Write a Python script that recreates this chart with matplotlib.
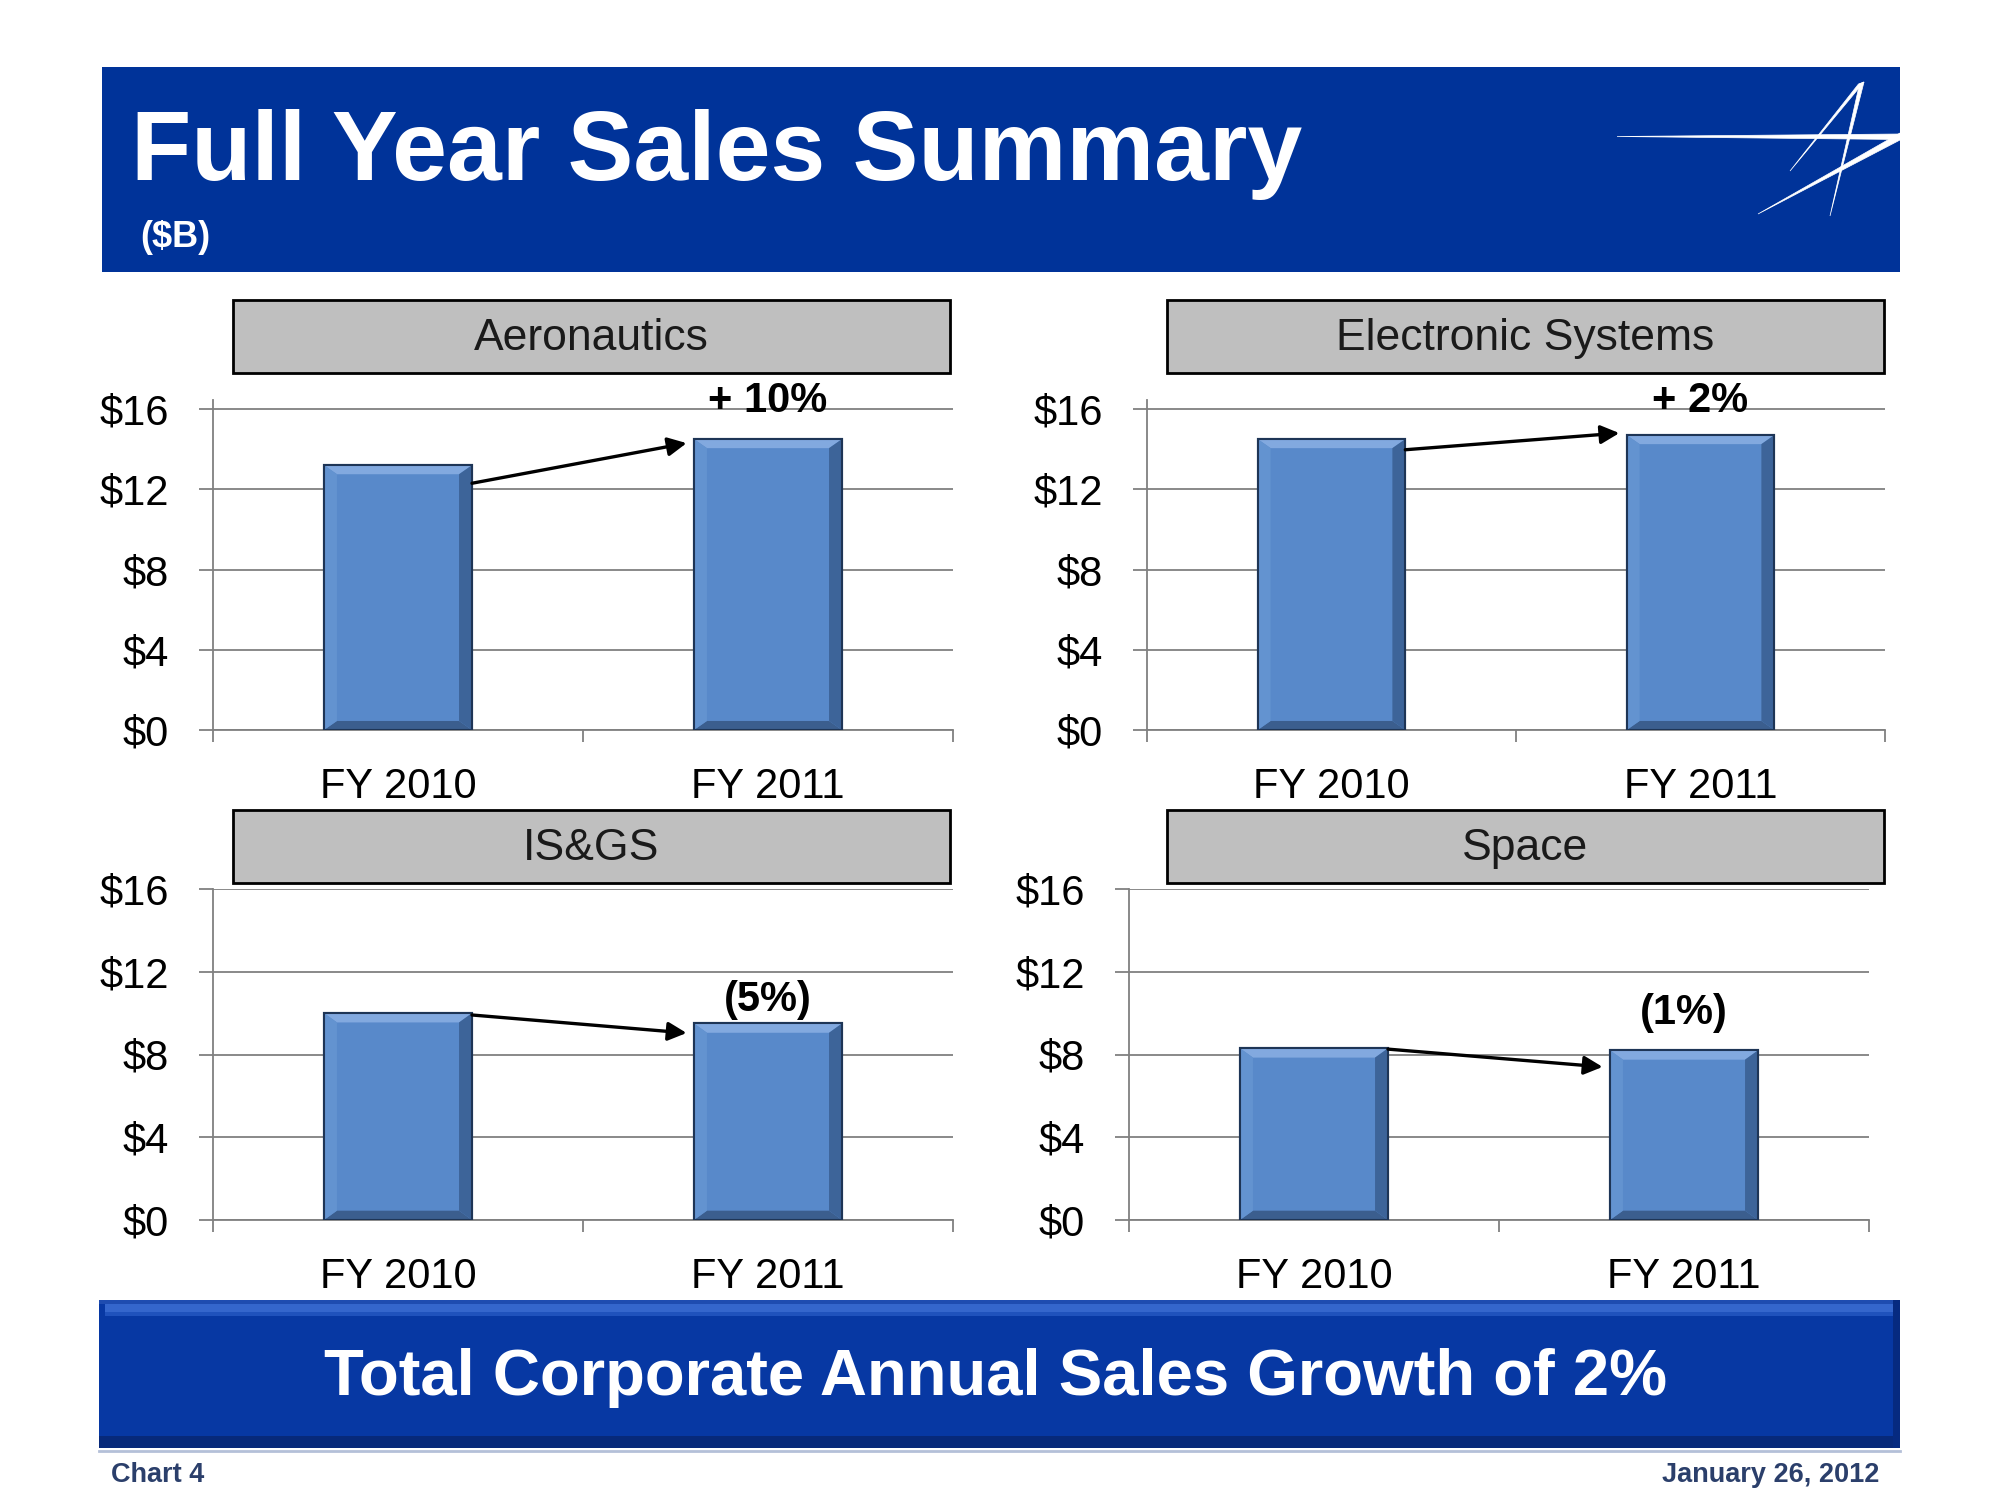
import matplotlib
matplotlib.use('Agg')
import matplotlib.pyplot as plt
from matplotlib.patches import Rectangle, Polygon

plt.rcParams['font.family'] = ['Liberation Sans', 'DejaVu Sans']

# data
segments = ['Aeronautics', 'Electronic Systems', 'IS&GS', 'Space']
years = ['FY 2010', 'FY 2011']
sales_2010 = [13.2, 14.5, 10.0, 8.3]
sales_2011 = [14.5, 14.7, 9.5, 8.2]
growth = ['+ 10%', '+ 2%', '(5%)', '(1%)']
yticks = [0, 4, 8, 12, 16]
title = 'Full Year Sales Summary'
subtitle = '($B)'
banner = 'Total Corporate Annual Sales Growth of 2%'
footer_left = 'Chart 4'
footer_right = 'January 26, 2012'

# layout, in pixels of the 2000x1500 canvas
W, H = 2000, 1500
axes_px = [(213, 400, 953, 730), (1147, 400, 1885, 730),
           (213, 889, 953, 1220), (1129, 889, 1869, 1220)]
ytop = [16.45, 16.45, 16.0, 16.0]
box_px = [(233, 300, 950, 373), (1167, 300, 1884, 373),
          (233, 810, 950, 883), (1167, 810, 1884, 883)]
label_y = [16.4, 16.4, 10.65, 10.0]
arrow_dy = [(-0.9, -0.2), (-0.53, 0.1), (-0.09, -0.46), (-0.04, -0.8)]

NAVY = '#003399'
GRID = '#808080'
BAR = '#5889CA'

fig = plt.figure(figsize=(20, 15), dpi=100)
fig.patch.set_facecolor('white')

deco = fig.add_axes([0, 0, 1, 1], zorder=0)
deco.set_xlim(0, W)
deco.set_ylim(H, 0)
deco.axis('off')

# header band
deco.add_patch(Rectangle((102, 67), 1798, 205, color=NAVY, lw=0))
deco.text(131, 180, title, color='white', fontsize=71, fontweight='bold',
          va='baseline', ha='left')
deco.text(140, 247, subtitle, color='white', fontsize=26, fontweight='bold',
          va='baseline', ha='left')

# logo
for pts in [[(1617, 136.5), (1900, 134), (1900, 139.5)],
            [(1758, 214), (1900, 133), (1900, 140)],
            [(1790, 171), (1858.5, 84), (1864, 82)],
            [(1830, 216), (1859.5, 84), (1864, 82)]]:
    deco.add_patch(Polygon(pts, closed=True, color='white', lw=0.5))

# bottom banner with bevel
deco.add_patch(Rectangle((99, 1300), 1801, 148, color='#0738A3', lw=0))
deco.add_patch(Rectangle((99, 1300), 1801, 4, color='#1E4CB0', lw=0))
deco.add_patch(Rectangle((105, 1304), 1789, 8, color='#3466CC', lw=0))
deco.add_patch(Rectangle((105, 1312), 1789, 4, color='#1F52BC', lw=0))
deco.add_patch(Rectangle((99, 1436), 1801, 12, color='#07297A', lw=0))
deco.add_patch(Rectangle((1893, 1300), 7, 148, color='#062A80', lw=0))
deco.plot([99, 1900], [1451, 1451], color='#B4C0D8', lw=2)
deco.text(996, 1378, banner, color='white', fontsize=47, fontweight='bold',
          ha='center', va='center')

deco.text(111, 1475, footer_left, color='#2B3F6B', fontsize=19.5,
          fontweight='bold', ha='left', va='center')
deco.text(1879, 1475, footer_right, color='#2B3F6B', fontsize=19.5,
          fontweight='bold', ha='right', va='center')

# panel header boxes
for (x0, y0, x1, y1), name in zip(box_px, segments):
    deco.add_patch(Rectangle((x0, y0), x1 - x0, y1 - y0, facecolor='#BFBFBF',
                             edgecolor='black', lw=2))
    deco.text((x0 + x1) / 2, (y0 + y1) / 2 + 2, name, color='#1A1A1A',
              fontsize=32, ha='center', va='center')

# charts
for i in range(4):
    l, t, r, b = axes_px[i]
    ax = fig.add_axes([l / W, 1 - b / H, (r - l) / W, (b - t) / H], zorder=1)
    ax.set_facecolor('none')
    vals = [sales_2010[i], sales_2011[i]]
    bars = ax.bar([0, 1], vals, width=0.4, color=BAR, edgecolor='#1E3556',
                  linewidth=1.5, zorder=3)
    # bevel
    for rect in bars:
        x0 = rect.get_x()
        w = rect.get_width()
        h = rect.get_height()
        x1 = x0 + w
        dx, dy = 0.035, 0.45
        bevels = [
            ([(x0, h), (x1, h), (x1 - dx, h - dy), (x0 + dx, h - dy)], '#82A9DF'),
            ([(x0, 0), (x1, 0), (x1 - dx, dy), (x0 + dx, dy)], '#3B5E8E'),
            ([(x1, 0), (x1, h), (x1 - dx, h - dy), (x1 - dx, dy)], '#3D6499'),
            ([(x0, 0), (x0, h), (x0 + dx, h - dy), (x0 + dx, dy)], '#6393D0'),
        ]
        for pts, c in bevels:
            ax.add_patch(Polygon(pts, closed=True, facecolor=c, lw=0, zorder=4))
        ax.add_patch(Rectangle((x0, 0), w, h, fill=False, edgecolor='#1E3556',
                               lw=1.5, zorder=5))

    ax.set_xlim(-0.5, 1.5)
    ax.set_ylim(0, ytop[i])
    ax.set_yticks(yticks)
    ax.set_yticklabels(['$' + str(v) for v in yticks])
    ax.yaxis.grid(True, color=GRID, lw=1.3)
    ax.set_axisbelow(True)
    ax.set_xticks([-0.5, 0.5, 1.5])
    ax.set_xticklabels([])
    ax.set_xticks([0, 1], minor=True)
    ax.set_xticklabels(years, minor=True)
    ax.tick_params(axis='x', which='major', length=8.6, width=1.3, color=GRID)
    ax.tick_params(axis='x', which='minor', length=0, pad=27, labelsize=30)
    ax.tick_params(axis='y', length=10, width=1.3, color=GRID, pad=21.6,
                   labelsize=30)
    for s in ['top', 'right']:
        ax.spines[s].set_visible(False)
    for s in ['left', 'bottom']:
        ax.spines[s].set_color(GRID)
        ax.spines[s].set_linewidth(1.3)

    ax.text(1.0, label_y[i], growth[i], fontsize=30, fontweight='bold',
            ha='center', va='center', zorder=6)
    d0, d1 = arrow_dy[i]
    ax.annotate('', xy=(0.78, vals[1] + d1), xytext=(0.2, vals[0] + d0),
                arrowprops=dict(arrowstyle='-|>', lw=2.4, color='black',
                                mutation_scale=28, shrinkA=0, shrinkB=0),
                zorder=6, annotation_clip=False)

fig.savefig('out.png', dpi=100)
